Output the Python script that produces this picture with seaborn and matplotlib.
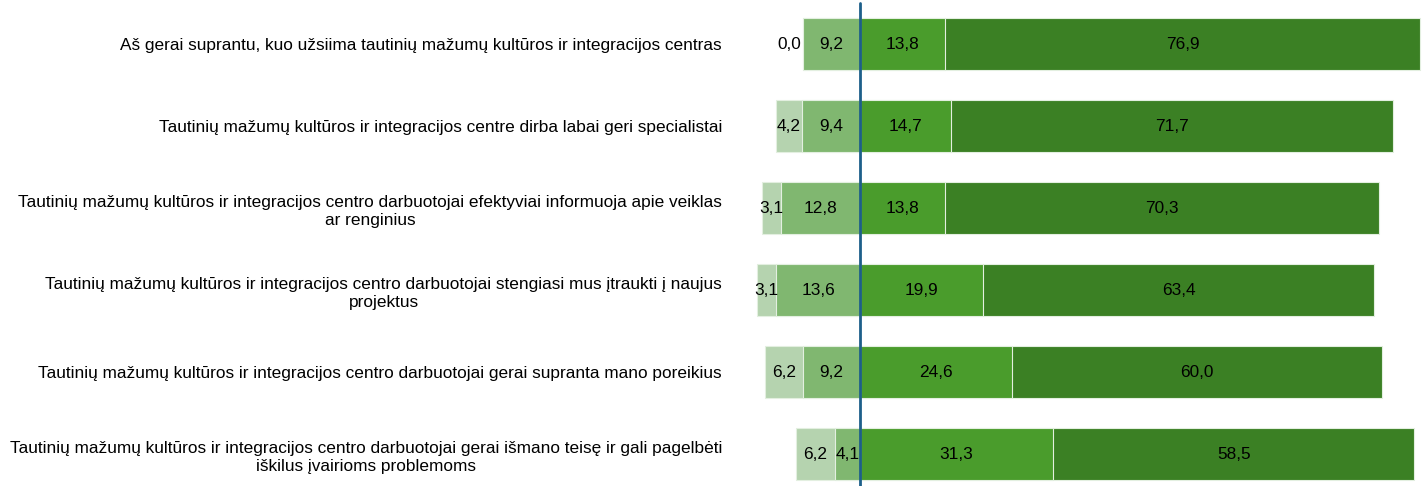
import numpy as np
import pandas as pd
import matplotlib
matplotlib.use('Agg')
import matplotlib.pyplot as plt
import seaborn as sns

statements = [
    'Aš gerai suprantu, kuo užsiima tautinių mažumų kultūros ir integracijos centras',
    'Tautinių mažumų kultūros ir integracijos centre dirba labai geri specialistai',
    'Tautinių mažumų kultūros ir integracijos centro darbuotojai efektyviai informuoja apie veiklas\nar renginius',
    'Tautinių mažumų kultūros ir integracijos centro darbuotojai stengiasi mus įtraukti į naujus\nprojektus',
    'Tautinių mažumų kultūros ir integracijos centro darbuotojai gerai supranta mano poreikius',
    'Tautinių mažumų kultūros ir integracijos centro darbuotojai gerai išmano teisę ir gali pagelbėti\niškilus įvairioms problemoms',
]
# negative side (shown left of the line)
strongly_disagree = [0.0, 4.2, 3.1, 3.1, 6.2, 6.2]
disagree = [9.2, 9.4, 12.8, 13.6, 9.2, 4.1]
# positive side
agree = [13.8, 14.7, 13.8, 19.9, 24.6, 31.3]
strongly_agree = [76.9, 71.7, 70.3, 63.4, 60.0, 58.5]

col_sd = '#b5d3af'
col_d = '#80b770'
col_a = '#4a9c2c'
col_sa = '#3b8024'

df = pd.DataFrame({
    'statement': statements,
    'sd': strongly_disagree,
    'd': disagree,
    'a': agree,
    'sa': strongly_agree,
})
df['neg_outer'] = -(df['sd'] + df['d'])
df['neg_inner'] = -df['d']
df['pos_outer'] = df['a'] + df['sa']
df['pos_inner'] = df['a']

sns.set_theme(style='white')
plt.rcParams['font.family'] = ['Liberation Sans', 'DejaVu Sans']

W, H = 1426, 486
fig = plt.figure(figsize=(W / 100, H / 100), dpi=100)
ax = fig.add_axes([745 / W, 0, (W - 745) / W, 1])

bw = 0.63
edge = dict(edgecolor='#e3efe0', linewidth=0.8)
# draw outer cumulative bars first, inner ones on top
sns.barplot(data=df, x='pos_outer', y='statement', orient='h', color=col_sa, width=bw, ax=ax, saturation=1, **edge)
sns.barplot(data=df, x='pos_inner', y='statement', orient='h', color=col_a, width=bw, ax=ax, saturation=1, **edge)
sns.barplot(data=df, x='neg_outer', y='statement', orient='h', color=col_sd, width=bw, ax=ax, saturation=1, **edge)
sns.barplot(data=df, x='neg_inner', y='statement', orient='h', color=col_d, width=bw, ax=ax, saturation=1, **edge)

fs = 12.4
fmt = lambda v: f'{v:.1f}'.replace('.', ',')
for i, r in df.iterrows():
    # value labels in the middle of each segment
    ax.text(r['pos_inner'] / 2, i, fmt(r['a']), ha='center', va='center', fontsize=fs, color='black')
    ax.text(r['pos_inner'] + r['sa'] / 2, i, fmt(r['sa']), ha='center', va='center', fontsize=fs, color='black')
    ax.text(-r['d'] / 2, i, fmt(r['d']), ha='center', va='center', fontsize=fs, color='black')
    if r['sd'] > 0:
        ax.text(-r['d'] - r['sd'] / 2, i, fmt(r['sd']), ha='center', va='center', fontsize=fs, color='black')
    else:
        ax.text(-r['d'] - 0.4, i, fmt(r['sd']), ha='right', va='center', fontsize=fs, color='black')

ax.axvline(0, ymin=0, ymax=0.994, color='#1d5f8a', linewidth=2, zorder=5)

ax.set_xlim(-18.63, 91.67)
ax.set_ylim(5.39, -0.537)
ax.set_xlabel('')
ax.set_ylabel('')
ax.set_xticks([])
ax.tick_params(axis='y', length=0, pad=16.5, labelsize=fs)
for t in ax.get_yticklabels():
    t.set_multialignment('center')
    t.set_linespacing(1.3)
    t.set_color('black')
for s in ax.spines.values():
    s.set_visible(False)

fig.savefig('out.png', dpi=100)
